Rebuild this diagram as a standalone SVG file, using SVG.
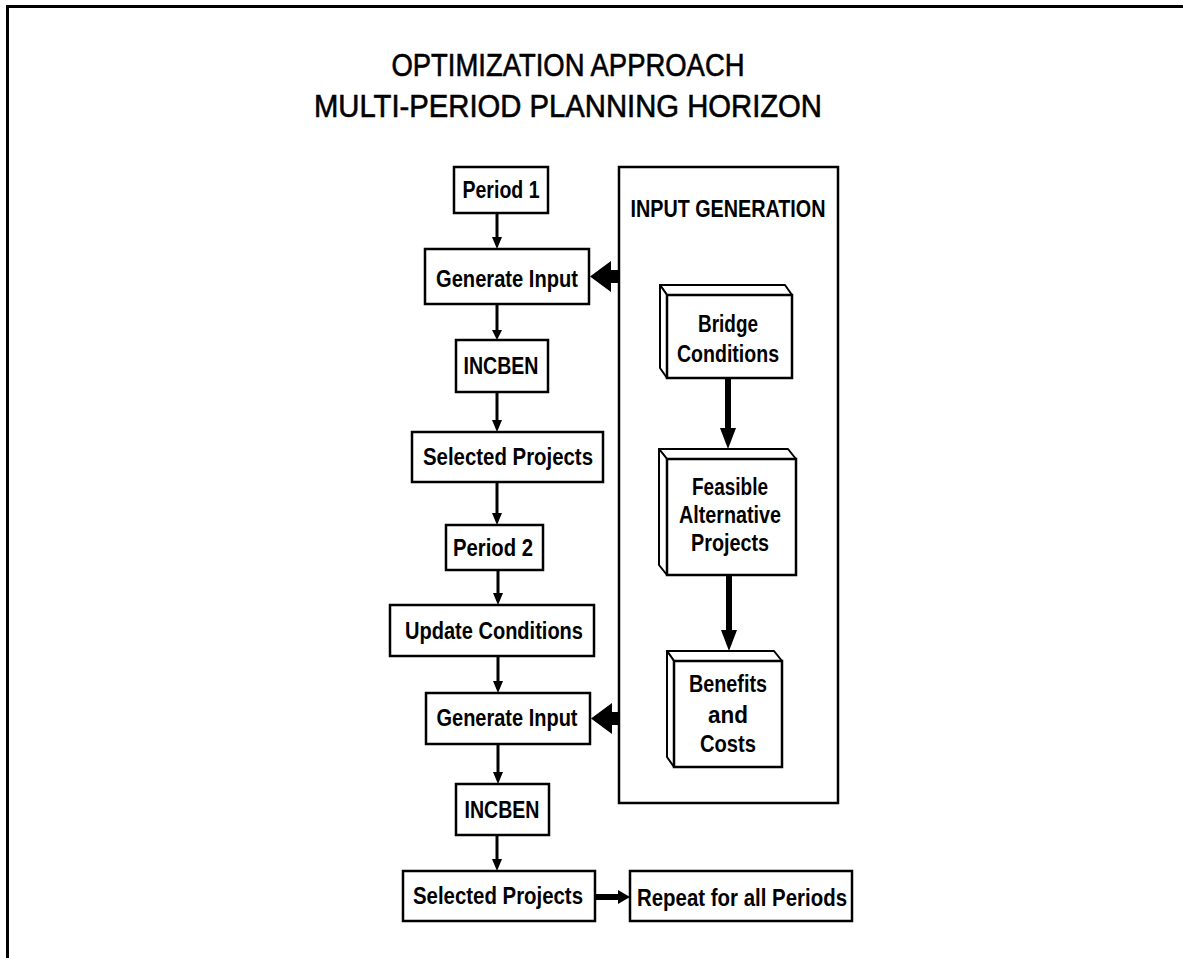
<svg xmlns="http://www.w3.org/2000/svg" width="1183" height="958" viewBox="0 0 1183 958">
  <style>
    .box { fill: #fff; stroke: #000; stroke-width: 2.5; }
    .side { fill: #fff; stroke: #000; stroke-width: 2; stroke-linejoin: round; }
    .lbl { font-family: "Liberation Sans", Arial, sans-serif; font-weight: bold; font-size: 23px; fill: #000; text-anchor: middle; }
    .title { font-family: "Liberation Sans", Arial, sans-serif; font-size: 31px; fill: #000; stroke: #000; stroke-width: 0.6; text-anchor: middle; }
    .thin { stroke: #000; stroke-width: 3; fill: none; }
    .thick { stroke: #000; stroke-width: 6; fill: none; }
    .head { fill: #000; stroke: none; }
  </style>

  <!-- page frame (top and left rules) -->
  <g id="frame">
    <rect x="6" y="5" width="1177" height="3" fill="#000"/>
    <rect x="6" y="5" width="3" height="953" fill="#000"/>
  </g>

  <g id="title">
    <text class="title" x="568" y="76" textLength="353" lengthAdjust="spacingAndGlyphs">OPTIMIZATION APPROACH</text>
    <text class="title" x="568" y="117" textLength="508" lengthAdjust="spacingAndGlyphs">MULTI-PERIOD PLANNING HORIZON</text>
  </g>

  <!-- left column: period flow -->
  <g id="period1">
    <rect class="box" x="454" y="167" width="94" height="46"/>
    <text class="lbl" x="501" y="198" textLength="77" lengthAdjust="spacingAndGlyphs">Period 1</text>
  </g>
  <g id="generate1">
    <rect class="box" x="425" y="249" width="164" height="55"/>
    <text class="lbl" x="507" y="287" textLength="142" lengthAdjust="spacingAndGlyphs">Generate Input</text>
  </g>
  <g id="incben1">
    <rect class="box" x="456" y="340" width="92" height="52"/>
    <text class="lbl" x="501" y="374" textLength="75" lengthAdjust="spacingAndGlyphs">INCBEN</text>
  </g>
  <g id="selected1">
    <rect class="box" x="412" y="432" width="191" height="50"/>
    <text class="lbl" x="508" y="465" textLength="170" lengthAdjust="spacingAndGlyphs">Selected Projects</text>
  </g>
  <g id="period2">
    <rect class="box" x="446" y="525" width="97" height="45"/>
    <text class="lbl" x="493" y="556" textLength="80" lengthAdjust="spacingAndGlyphs">Period 2</text>
  </g>
  <g id="update">
    <rect class="box" x="390" y="605" width="204" height="51"/>
    <text class="lbl" x="494" y="639" textLength="178" lengthAdjust="spacingAndGlyphs">Update Conditions</text>
  </g>
  <g id="generate2">
    <rect class="box" x="426" y="693" width="164" height="51"/>
    <text class="lbl" x="507" y="726" textLength="141" lengthAdjust="spacingAndGlyphs">Generate Input</text>
  </g>
  <g id="incben2">
    <rect class="box" x="456" y="784" width="93" height="51"/>
    <text class="lbl" x="502" y="818" textLength="75" lengthAdjust="spacingAndGlyphs">INCBEN</text>
  </g>
  <g id="selected2">
    <rect class="box" x="403" y="871" width="192" height="50"/>
    <text class="lbl" x="498" y="904" textLength="170" lengthAdjust="spacingAndGlyphs">Selected Projects</text>
  </g>
  <g id="repeat">
    <rect class="box" x="630" y="871" width="222" height="50"/>
    <text class="lbl" x="742" y="906" textLength="210" lengthAdjust="spacingAndGlyphs">Repeat for all Periods</text>
  </g>

  <!-- right panel: input generation -->
  <g id="input-generation">
    <rect class="box" x="619" y="167" width="219" height="636"/>
    <text class="lbl" x="728" y="217" font-size="21" textLength="195" lengthAdjust="spacingAndGlyphs">INPUT GENERATION</text>
  </g>

  <g id="bridge-conditions">
    <path class="side" d="M660,285 L785,285 L792,295 L667,295 Z"/>
    <path class="side" d="M660,285 L667,295 L667,378 L660,368 Z"/>
    <rect class="box" x="667" y="295" width="125" height="83"/>
    <text class="lbl" x="728" y="332" textLength="60" lengthAdjust="spacingAndGlyphs">Bridge</text>
    <text class="lbl" x="728" y="362" textLength="102" lengthAdjust="spacingAndGlyphs">Conditions</text>
  </g>

  <g id="feasible-projects">
    <path class="side" d="M659,449 L788,449 L796,459 L667,459 Z"/>
    <path class="side" d="M659,449 L667,459 L667,575 L659,565 Z"/>
    <rect class="box" x="667" y="459" width="129" height="116"/>
    <text class="lbl" x="730" y="495" textLength="76" lengthAdjust="spacingAndGlyphs">Feasible</text>
    <text class="lbl" x="730" y="523" textLength="102" lengthAdjust="spacingAndGlyphs">Alternative</text>
    <text class="lbl" x="730" y="551" textLength="78" lengthAdjust="spacingAndGlyphs">Projects</text>
  </g>

  <g id="benefits-costs">
    <path class="side" d="M667,651 L774,651 L782,661 L674,661 Z"/>
    <path class="side" d="M667,651 L674,661 L674,767 L667,757 Z"/>
    <rect class="box" x="674" y="661" width="108" height="106"/>
    <text class="lbl" x="728" y="692" textLength="78" lengthAdjust="spacingAndGlyphs">Benefits</text>
    <text class="lbl" x="728" y="723" textLength="40" lengthAdjust="spacingAndGlyphs">and</text>
    <text class="lbl" x="728" y="752" textLength="56" lengthAdjust="spacingAndGlyphs">Costs</text>
  </g>

  <!-- connectors -->
  <g id="connectors">
    <!-- left column, thin arrows -->
    <line class="thin" x1="497" y1="213" x2="497" y2="238"/>
    <path class="head" d="M492,237 L502,237 L497,249 Z"/>
    <line class="thin" x1="497" y1="304" x2="497" y2="331"/>
    <path class="head" d="M492,330 L502,330 L497,340 Z"/>
    <line class="thin" x1="497" y1="392" x2="497" y2="421"/>
    <path class="head" d="M492,420 L502,420 L497,432 Z"/>
    <line class="thin" x1="497" y1="482" x2="497" y2="514"/>
    <path class="head" d="M492,513 L502,513 L497,525 Z"/>
    <line class="thin" x1="498" y1="570" x2="498" y2="594"/>
    <path class="head" d="M493,593 L503,593 L498,605 Z"/>
    <line class="thin" x1="498" y1="656" x2="498" y2="682"/>
    <path class="head" d="M493,681 L503,681 L498,693 Z"/>
    <line class="thin" x1="498" y1="744" x2="498" y2="773"/>
    <path class="head" d="M493,772 L503,772 L498,784 Z"/>
    <line class="thin" x1="497" y1="835" x2="497" y2="860"/>
    <path class="head" d="M492,859 L502,859 L497,871 Z"/>

    <!-- panel feeding each Generate Input -->
    <path class="head" d="M619,270 L611,270 L611,261 L590,276.5 L611,292 L611,283 L619,283 Z"/>
    <path class="head" d="M619,712 L612,712 L612,703 L591,718.5 L612,734 L612,725 L619,725 Z"/>

    <!-- input generation chain -->
    <line class="thick" x1="728" y1="378" x2="728" y2="430"/>
    <path class="head" d="M720,428 L736,428 L728,449 Z"/>
    <line class="thick" x1="729" y1="575" x2="729" y2="632"/>
    <path class="head" d="M721,630 L737,630 L729,651 Z"/>

    <!-- to repeat -->
    <line class="thick" x1="595" y1="897" x2="620" y2="897"/>
    <path class="head" d="M618,890 L630,897 L618,904 Z"/>
  </g>
</svg>
